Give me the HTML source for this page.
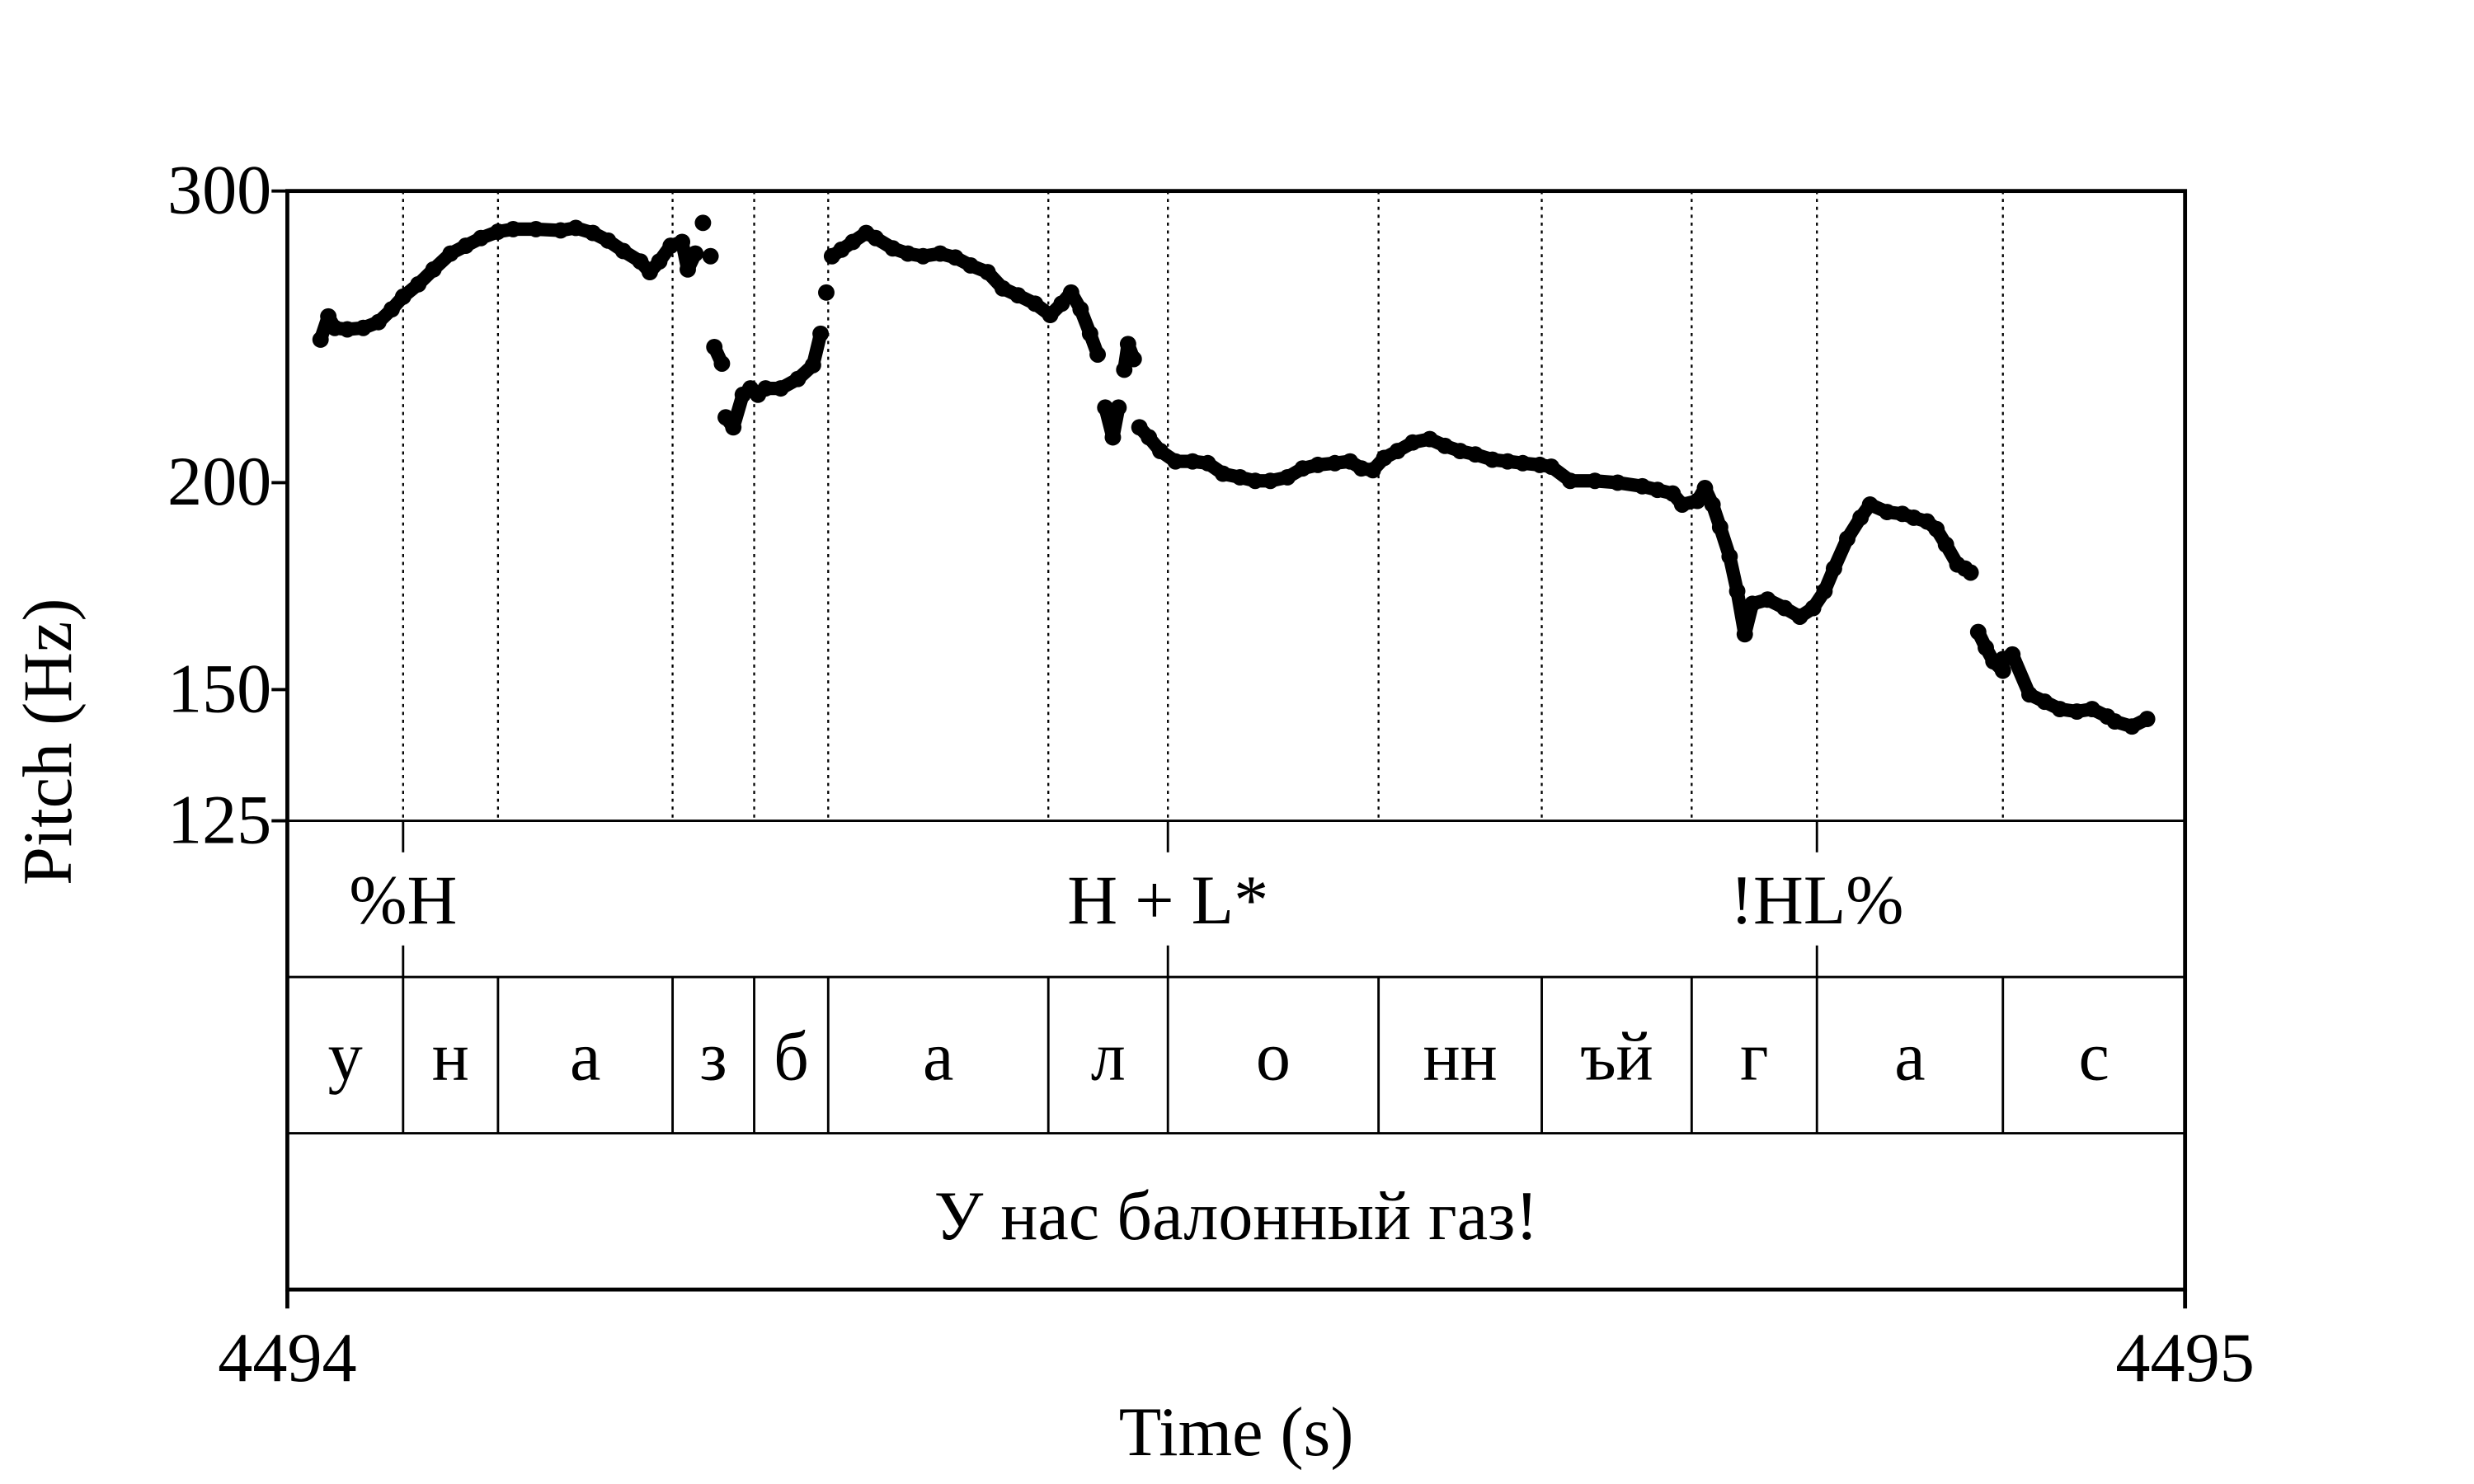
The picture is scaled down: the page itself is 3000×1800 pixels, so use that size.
<!DOCTYPE html>
<html><head><meta charset="utf-8"><style>html,body{margin:0;padding:0;background:#fff}svg{display:block}text{font-family:"Liberation Serif","DejaVu Serif",serif;fill:#000}</style></head>
<body>
<svg id="chart" width="3000" height="1800" viewBox="0 0 1567 940.2" preserveAspectRatio="none" xmlns="http://www.w3.org/2000/svg"></svg>
<script>
const timesMs=[17.5,21.6,25,31.6,40,48,55,61,69,77,86,94,102,111,119,131,144,152,161,169,177,186,191,196,202,208,211,215,219,223,225,229,231,235,240,244,248,252,260,269,277,281,284,287,292,298,305,310,319,327,335,344,352,360,369,377,385,394,402,408,413,418,423,427,431,435,438,441,443,446,449,454,460,468,477,485,493,502,510,518,527,535,543,552,560,566,572,578,585,593,602,610,618,626,635,643,651,660,666,676,689,701,714,722,730,735,743,747,751,755,760,764,768,772,780,789,797,804,810,815,822,829,834,843,851,857,864,869,874,880,884,887,891,895,899,904,904,909,918,926,934,943,951,959,963,972,980];
const pitchHz=[244,252,248,247.5,248,250,254.5,259,263.5,269,275,278,281,283.5,284.5,284.5,284,285,283,280,276,272,268,272,278,279.5,269,275,287,274,241.5,236,219,216,226,228,226,228,228,231,235.5,246,260.5,274,276.5,279.5,283,281,277,275,274,275,273.5,270.5,268,262,259.5,256.5,252.5,256.5,260.5,254.5,246,239,222,213,222,234,242.5,237.5,216,213,209,206,206,205.5,202.5,201.5,200.5,200.5,201.5,204,205,205.5,206,204,203.5,207,209,211.5,212.5,210.5,209,208,206.5,206,205.5,205,204.5,200.5,200.5,200,199,198,197,194,195,198.5,194,188,180.5,172,162,169,170,168,166,168,172,177.5,185,190.5,194,192,191.5,190.5,189.5,187.5,183.5,178.5,177.5,176.5,162.5,159,156,154,156.5,157.5,149,147.5,146,145.5,146,144.5,143.5,142.5,144,144,144];
const boundariesMs=[61,111,203,246,285,401,464,575,661,740,806,904];
const segmentLabels=["у","н","а","з","б","а","л","о","нн","ъй","г","а","с"];
const toneTimesMs=[61,464,806];
const toneLabels=["%H","H + L*","!HL%"];
const yTicks=[300,200,150,125];
const xTickLabels=["4494","4495"];

const svg=document.getElementById('chart');
const NS="http://www.w3.org/2000/svg";
const L=182,R=1384,T=121,B=520,T1=619,T2=718,T3=817;
const FS=44;
const xs=ms=>L+(R-L)*ms/1000;
const ys=hz=>B-(B-T)*Math.log(hz/125)/Math.log(300/125);
function el(tag,attrs,text){const e=document.createElementNS(NS,tag);for(const k in attrs)e.setAttribute(k,attrs[k]);if(text!==undefined)e.textContent=text;svg.appendChild(e);return e;}

boundariesMs.forEach(b=>{
  const l=el('line',{x1:xs(b),x2:xs(b),y1:T,y2:B,stroke:'#000','stroke-width':1.2,'stroke-dasharray':'2,3'});
  
  
});
for(let i=1;i<timesMs.length;i++){
  if(timesMs[i]-timesMs[i-1]<=14 && Math.abs(pitchHz[i]-pitchHz[i-1])<12){
    const l=el('line',{x1:xs(timesMs[i-1]),y1:ys(pitchHz[i-1]),x2:xs(timesMs[i]),y2:ys(pitchHz[i]),stroke:'#000','stroke-width':8.5,'stroke-linecap':'round'});
    
    
  }
}
timesMs.forEach((t,i)=>{
  const c=el('circle',{cx:xs(t),cy:ys(pitchHz[i]),r:5.2,fill:'#000'});
  
  
});
const f=el('rect',{x:L,y:T,width:R-L,height:T3-T,fill:'none',stroke:'#000','stroke-width':2.5});

[B,T1,T2].forEach(y=>{const l=el('line',{x1:L,x2:R,y1:y,y2:y,stroke:'#000','stroke-width':1.5});
  });
boundariesMs.forEach(b=>{const l=el('line',{x1:xs(b),x2:xs(b),y1:T1,y2:T2,stroke:'#000','stroke-width':1.5});
  });
const edges=[0,...boundariesMs,1000];
segmentLabels.forEach((s,i)=>{const t=el('text',{x:(xs(edges[i])+xs(edges[i+1]))/2,y:684,'font-size':FS,'text-anchor':'middle'},s);
  });
toneTimesMs.forEach((m,i)=>{
  const a=el('line',{x1:xs(m),x2:xs(m),y1:B,y2:B+20,stroke:'#000','stroke-width':1.5});
  
  const b=el('line',{x1:xs(m),x2:xs(m),y1:T1-20,y2:T1,stroke:'#000','stroke-width':1.5});
  
  const t=el('text',{x:xs(m),y:585,'font-size':FS,'text-anchor':'middle'},toneLabels[i]);
  
});
const s=el('text',{x:(L+R)/2,y:785,'font-size':FS,'text-anchor':'middle'},"У нас балонный газ!");

yTicks.forEach(v=>{
  const l=el('line',{x1:L-10,x2:L,y1:ys(v),y2:ys(v),stroke:'#000','stroke-width':2});
  
  const t=el('text',{x:L-10,y:ys(v)+14,'font-size':FS,'text-anchor':'end'},String(v));
  
});
const yt=el('text',{x:0,y:0,'font-size':FS,'text-anchor':'middle',transform:'translate(45,470) rotate(-90)'},"Pitch (Hz)");

[L,R].forEach((x,i)=>{
  const l=el('line',{x1:x,x2:x,y1:T3,y2:T3+12,stroke:'#000','stroke-width':2.5});
  
  const t=el('text',{x:x,y:875,'font-size':FS,'text-anchor':'middle'},xTickLabels[i]);
  
});
const xt=el('text',{x:(L+R)/2,y:922,'font-size':FS,'text-anchor':'middle'},"Time (s)");

</script>
</body></html>
